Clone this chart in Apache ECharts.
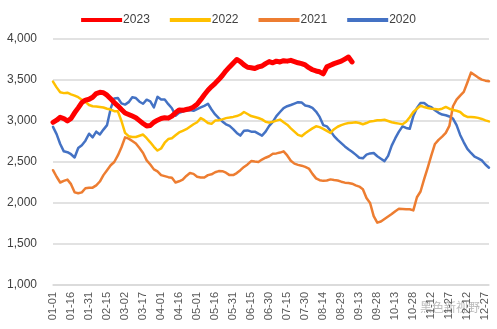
<!DOCTYPE html>
<html>
<head>
<meta charset="utf-8">
<script src="https://cdn.jsdelivr.net/npm/echarts@6/dist/echarts.min.js"></script>
<style>
  html, body { margin: 0; padding: 0; background: #fff; }
  #chart { width: 497px; height: 329px; }
</style>
</head>
<body>
<div id="chart"></div>
<script>
// Calendar dates (MM-DD) sampled every 3 days through a 365-day year
const monthDays = [31, 28, 31, 30, 31, 30, 31, 31, 30, 31, 30, 31];
const categories = [];
(function () {
  let m = 0, d = 1;
  for (let day = 0; day < 365; day++) {
    if (day % 3 === 0) {
      categories.push(String(m + 1).padStart(2, '0') + '-' + String(d).padStart(2, '0'));
    }
    d++;
    if (d > monthDays[m]) { d = 1; m++; }
  }
})();

const seriesNames = ['2023', '2022', '2021', '2020'];

const values2023 = [
  2984, 3010, 3045, 3030, 3000, 3030, 3100, 3160, 3225, 3255,
  3265, 3290, 3335, 3350, 3345, 3315, 3270, 3225, 3185, 3140,
  3098, 3080, 3060, 3040, 3005, 2970, 2940, 2945, 2985, 3010,
  3030, 3040, 3035, 3060, 3100, 3135, 3130, 3140, 3150, 3170,
  3205, 3260, 3320, 3375, 3420, 3460, 3505, 3555, 3612, 3660,
  3705, 3750, 3725, 3685, 3655, 3650, 3640, 3660, 3670, 3700,
  3725, 3710, 3730, 3720, 3735, 3730, 3740, 3725, 3710, 3700,
  3684, 3650, 3625, 3610, 3600, 3575, 3660, 3680, 3700, 3715,
  3730, 3755, 3780, 3720
];

const values2022 = [
  3480, 3410, 3350, 3340, 3345, 3325, 3310, 3290, 3260, 3235,
  3195, 3180, 3178, 3172, 3165, 3150, 3140, 3120, 3118, 3000,
  2855, 2815, 2805, 2805, 2820, 2835, 2790, 2740, 2685, 2640,
  2665, 2735, 2780, 2790, 2825, 2860, 2880, 2900, 2930, 2960,
  2985, 3035, 3010, 2975, 2965, 3005, 3010, 3020, 3035, 3042,
  3050, 3060, 3077, 3110, 3085, 3060, 3048, 3037, 3020, 2990,
  2980, 2990, 3005, 3017, 2985, 2955, 2910, 2870, 2830, 2815,
  2850, 2880, 2910, 2935, 2925, 2905, 2880, 2855, 2900, 2930,
  2950, 2965, 2975, 2980, 2984, 2975, 2960, 2975, 2995, 3000,
  3008, 3010, 3015, 3000, 2985, 2975, 2968, 2960, 2990, 3045,
  3110, 3150, 3187, 3170, 3158, 3150, 3147, 3140, 3150, 3171,
  3150, 3135, 3125, 3110, 3070, 3050, 3050, 3045, 3038, 3025,
  3008, 2995
];

const values2021 = [
  2400, 2320, 2250, 2270, 2285, 2230, 2130, 2118, 2130, 2180,
  2187, 2187, 2215, 2262, 2340, 2400, 2460, 2500, 2580, 2680,
  2800, 2785, 2755, 2725, 2670, 2610, 2520, 2470, 2410, 2385,
  2340, 2328, 2315, 2308, 2250, 2265, 2285, 2330, 2365, 2355,
  2320, 2310, 2310, 2340, 2350, 2375, 2389, 2388, 2370, 2340,
  2340, 2365, 2400, 2440, 2470, 2511, 2505, 2500, 2530, 2552,
  2570, 2600, 2605, 2615, 2630, 2580, 2515, 2480, 2465, 2455,
  2440, 2420, 2355, 2300, 2278, 2270, 2275, 2288, 2280, 2275,
  2260, 2248, 2245, 2235, 2215, 2200, 2167, 2060, 2000, 1840,
  1760, 1775, 1805, 1835, 1865, 1900, 1930, 1928, 1925, 1924,
  1910, 2070, 2140, 2290, 2430, 2580, 2720, 2770, 2810, 2855,
  2940, 3180, 3260, 3310, 3355, 3470, 3590, 3560, 3530, 3505,
  3492, 3485
];

const values2020 = [
  2928, 2840, 2720, 2630, 2620, 2595, 2555, 2670, 2705, 2760,
  2845, 2800, 2870, 2835, 2895, 2950, 3150, 3275, 3280, 3215,
  3200, 3230, 3290, 3280, 3235, 3210, 3260, 3240, 3165, 3295,
  3262, 3262, 3205, 3155, 3065, 3100, 3115, 3130, 3135, 3125,
  3145, 3165, 3185, 3210, 3140, 3080, 3035, 2995, 2960, 2940,
  2900, 2855, 2822, 2880, 2885, 2870, 2870, 2845, 2822, 2870,
  2940, 2990, 3060, 3110, 3158, 3180, 3195, 3212, 3230, 3225,
  3190, 3180, 3160, 3115, 3050, 2950, 2935, 2880, 2815, 2770,
  2730, 2690, 2655, 2625, 2590, 2552, 2545, 2590, 2605, 2610,
  2570, 2540, 2511, 2575, 2700, 2790, 2870, 2935, 2915, 2905,
  3060, 3160, 3220, 3220, 3185, 3170, 3130, 3100, 3078, 3070,
  3055, 3030, 2950, 2830, 2740, 2660, 2610, 2565, 2545, 2520,
  2470, 2430
];

const yTicks = { min: 1000, max: 4000, step: 500 };

const colors = ['#ff0000', '#ffc000', '#ed7d31', '#4472c4'];
const widths = [5, 2.5, 2.5, 2.5];
const allValues = [values2023, values2022, values2021, values2020];

const chart = echarts.init(document.getElementById('chart'), null, { renderer: 'canvas' });
const font = '"Liberation Sans", Arial, sans-serif';

chart.setOption({
  animation: false,
  backgroundColor: '#ffffff',
  textStyle: { fontFamily: font },
  legend: {
    top: 9,
    left: 'center',
    itemWidth: 41,
    itemHeight: 4,
    itemGap: 20,
    icon: 'rect',
    textStyle: { fontSize: 12, color: '#404040', fontFamily: font, padding: [0, 0, 0, -4] },
    data: seriesNames
  },
  grid: { left: 53, right: 8, top: 39, bottom: 44, containLabel: false },
  xAxis: {
    type: 'category',
    boundaryGap: false,
    data: categories,
    axisLine: { show: true, lineStyle: { color: '#d9d9d9', width: 1.5 } },
    axisTick: { show: false },
    axisLabel: {
      interval: 4,
      rotate: 90,
      margin: 7,
      fontSize: 11,
      color: '#595959',
      fontFamily: font
    }
  },
  yAxis: {
    type: 'value',
    min: yTicks.min,
    max: yTicks.max,
    interval: yTicks.step,
    axisLine: { show: false },
    axisTick: { show: false },
    splitLine: { lineStyle: { color: '#d9d9d9', width: 1.5 } },
    axisLabel: {
      margin: 16,
      fontSize: 12,
      color: '#404040',
      fontFamily: font,
      formatter: v => v.toLocaleString('en-US')
    }
  },
  series: seriesNames.map((name, k) => ({
    name: name,
    type: 'line',
    data: allValues[k],
    symbol: 'none',
    smooth: false,
    z: 10 - k,
    itemStyle: { color: colors[k] },
    lineStyle: { color: colors[k], width: widths[k], join: 'round', cap: 'round' }
  })),
  graphic: [{
    type: 'text',
    right: 17,
    bottom: 16,
    style: {
      text: '黑色新视野',
      fontSize: 12,
      fontFamily: '"Noto Sans CJK SC", sans-serif',
      fill: 'rgba(120,120,120,0.5)'
    }
  }]
});
</script>
</body>
</html>
